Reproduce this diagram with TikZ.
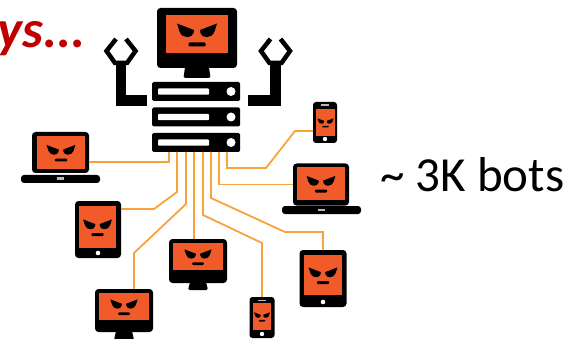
\documentclass[tikz,border=0pt]{standalone}
\usepackage{fontspec}
\newfontfamily\carl{Carlito}
\usetikzlibrary{calc}
\definecolor{scr}{HTML}{F15A29}
\definecolor{wirec}{HTML}{F8A33A}
\definecolor{redtxt}{HTML}{C00000}
\tikzset{
  body/.style={fill=black, rounded corners=3.5pt, inner sep=0pt, outer sep=0pt},
  screen/.style={fill=scr, inner sep=0pt, outer sep=0pt},
  rack/.style={fill=black, rounded corners=1.5pt, inner sep=0pt, outer sep=0pt,
    minimum width=88pt, minimum height=19pt},
  wire/.style={draw=wirec, line width=1.8pt},
  claw/.style={draw=black, line width=4.5pt, line join=miter},
  face/.pic={
    \fill (-20,-10.5) -- (-3,-4) -- (-3.5,-1) .. controls (-4.5,4.5) and (-15,5) .. (-17.5,-2.5) -- cycle;
    \fill (20,-10.5) -- (3,-4) -- (3.5,-1) .. controls (4.5,4.5) and (15,5) .. (17.5,-2.5) -- cycle;
    \fill[rounded corners=1pt] (-8.5,8.5) rectangle (8.5,12.5);
  }
}
\begin{document}
\begin{tikzpicture}[x=1pt, y=-1pt]
\useasboundingbox (0,0) rectangle (567,339);
\clip (0,0) rectangle (567,339);

% title fragment
\node[anchor=base east, inner sep=0pt, text=redtxt, font=\carl\bfseries\itshape\fontsize{53}{56}\selectfont]
  (title) at (86,48) {ys...};

% count label
\node[anchor=base west, inner sep=0pt, font=\carl\fontsize{49}{52}\selectfont]
  (count) at (380,192) {\char`\~{} 3K bots};

% ---- command server: monitor head, rack body, arms ----
\node[body, minimum width=80pt, minimum height=60pt] (monT) at (197,38) {};
\node[screen, minimum width=62pt, minimum height=38pt] (monTs) at (197,34) {};
\pic at (monTs) {face};
\fill[rounded corners=1.5pt] ($(monT.south)+(-12,-1)$) -- ($(monT.south)+(12,-1)$)
  -- ($(monT.south)+(13.5,10)$) -- ($(monT.south)+(-13.5,10)$) -- cycle;

\foreach \n/\yy in {srv1/91.5, srv2/117, srv3/142.5}{
  \node[rack] (\n) at (196,\yy) {};
  \fill[white, rounded corners=0.8pt] ($(\n.west)+(6,-3)$) rectangle ($(\n.west)+(57,3.2)$);
  \fill[white] ($(\n.east)+(-9,0)$) circle (4.5);
}

% left arm with pincer
\fill (116,62) rectangle (126,106);
\fill (116,95) rectangle (147,106);
\draw[claw] (116,39) -- (106.5,51) -- (115,63) -- (127,63) -- (135.5,51) -- (126,39);
% right arm with pincer
\fill (270,62) rectangle (281,106);
\fill (248,95) rectangle (281,106);
\draw[claw] (270.5,39) -- (261,51) -- (269.5,63) -- (281.5,63) -- (290,51) -- (280.5,39);

% ports on the bottom rack unit
\foreach \i/\dx in {1/17, 2/25, 3/34, 4/42, 5/51, 6/59, 7/67, 8/75}
  \coordinate (p\i) at ($(srv3.south west)+(\dx,0)$);

% ---- bots ----
% left laptop
\node[body, minimum width=57pt, minimum height=41pt] (lapL) at (60.5,152.5) {};
\node[screen, minimum width=48pt, minimum height=33pt] (lapLs) at (61,152.5) {};
\pic[scale=0.72] at (lapLs) {face};
\node[body, rounded corners=3pt, minimum width=79pt, minimum height=8pt] (lapLb) at (60.5,179) {};
\fill[gray!55] ($(lapLb.north)+(-3.5,2.5)$) rectangle ($(lapLb.north)+(3.5,4.8)$);

% left tablet
\node[body, minimum width=46pt, minimum height=57pt] (tabL) at (98,229.5) {};
\node[screen, minimum width=37pt, minimum height=42pt] (tabLs) at (97.5,227) {};
\pic[scale=0.72] at (tabLs) {face};
\fill[white] ($(tabL.south)+(0,-5)$) circle (2.3);

% bottom-left monitor
\node[body, minimum width=58pt, minimum height=43pt] (monB) at (124,310.5) {};
\node[screen, minimum width=50pt, minimum height=27pt] (monBs) at (124,306.5) {};
\pic[scale=0.68] at (monBs) {face};
\fill[rounded corners=1.5pt] ($(monB.south)+(-8,-1)$) -- ($(monB.south)+(8,-1)$)
  -- ($(monB.south)+(10,8)$) -- ($(monB.south)+(-10,8)$) -- cycle;

% center monitor
\node[body, minimum width=58pt, minimum height=44pt] (monC) at (198,261) {};
\node[screen, minimum width=50pt, minimum height=27pt] (monCs) at (198,256.5) {};
\pic[scale=0.68] at (monCs) {face};
\fill[rounded corners=1.5pt] ($(monC.south)+(-8,-1)$) -- ($(monC.south)+(8,-1)$)
  -- ($(monC.south)+(10,7)$) -- ($(monC.south)+(-10,7)$) -- cycle;

% bottom phone
\node[body, rounded corners=3pt, minimum width=25pt, minimum height=41pt] (phB) at (262,317.5) {};
\node[screen, minimum width=18pt, minimum height=27pt] (phBs) at (262,316.5) {};
\pic[scale=0.4] at (phBs) {face};
\fill[gray!55] ($(phB.north)+(-4,2.5)$) rectangle ($(phB.north)+(4,4)$);
\fill[white] ($(phB.south)+(0,-4)$) circle (2.2);

% right tablet
\node[body, minimum width=47pt, minimum height=57pt] (tabR) at (323,278.5) {};
\node[screen, minimum width=38pt, minimum height=40pt] (tabRs) at (323,275) {};
\pic[scale=0.72] at (tabRs) {face};
\fill[white] ($(tabR.south)+(0,-5)$) circle (2.3);

% right laptop
\node[body, minimum width=56pt, minimum height=42pt] (lapR) at (321,184.5) {};
\node[screen, minimum width=48pt, minimum height=33pt] (lapRs) at (321,183.5) {};
\pic[scale=0.72] at (lapRs) {face};
\node[body, rounded corners=3pt, minimum width=79pt, minimum height=8pt] (lapRb) at (321.5,210) {};
\fill[gray!55] ($(lapRb.north)+(-3.5,2.5)$) rectangle ($(lapRb.north)+(3.5,4.8)$);

% top phone
\node[body, rounded corners=3pt, minimum width=24pt, minimum height=41pt] (phT) at (325,122.5) {};
\node[screen, minimum width=19pt, minimum height=27pt] (phTs) at (325.5,122.5) {};
\pic[scale=0.4] at (phTs) {face};
\fill[gray!55] ($(phT.north)+(-4,2.5)$) rectangle ($(phT.north)+(4,4)$);
\fill[white] ($(phT.south)+(0,-4)$) circle (2.2);

% ---- wires from the rack to each bot ----
\draw[wire] (p1) |- ($(lapL.south east)+(0,-11)$);
\draw[wire] (p2) -- ++(0,40) -- ($(tabL.north east)+(33,8)$) -- ($(tabL.north east)+(0,8)$);
\draw[wire] (p3) -- ++(0,52) -- ($(monB.north)+(10,-36)$) -- ($(monB.north)+(10,0)$);
\draw[wire] (p4) -- (p4 |- monC.north);
\draw[wire] (p5) -- ++(0,63) -- ($(phB.north)+(0,-54)$) -- (phB.north);
\draw[wire] (p6) -- ++(0,46) -- ($(tabR.north)+(-38,-18)$) -- ($(tabR.north)+(0,-18)$) -- (tabR.north);
\draw[wire] (p7) |- (lapR.west);
\draw[wire] (p8) -- ++(0,16) -- ++(39,0) -- ($(phT.west)+(-18,8.5)$) -- ($(phT.west)+(0,8.5)$);
\end{tikzpicture}
\end{document}
